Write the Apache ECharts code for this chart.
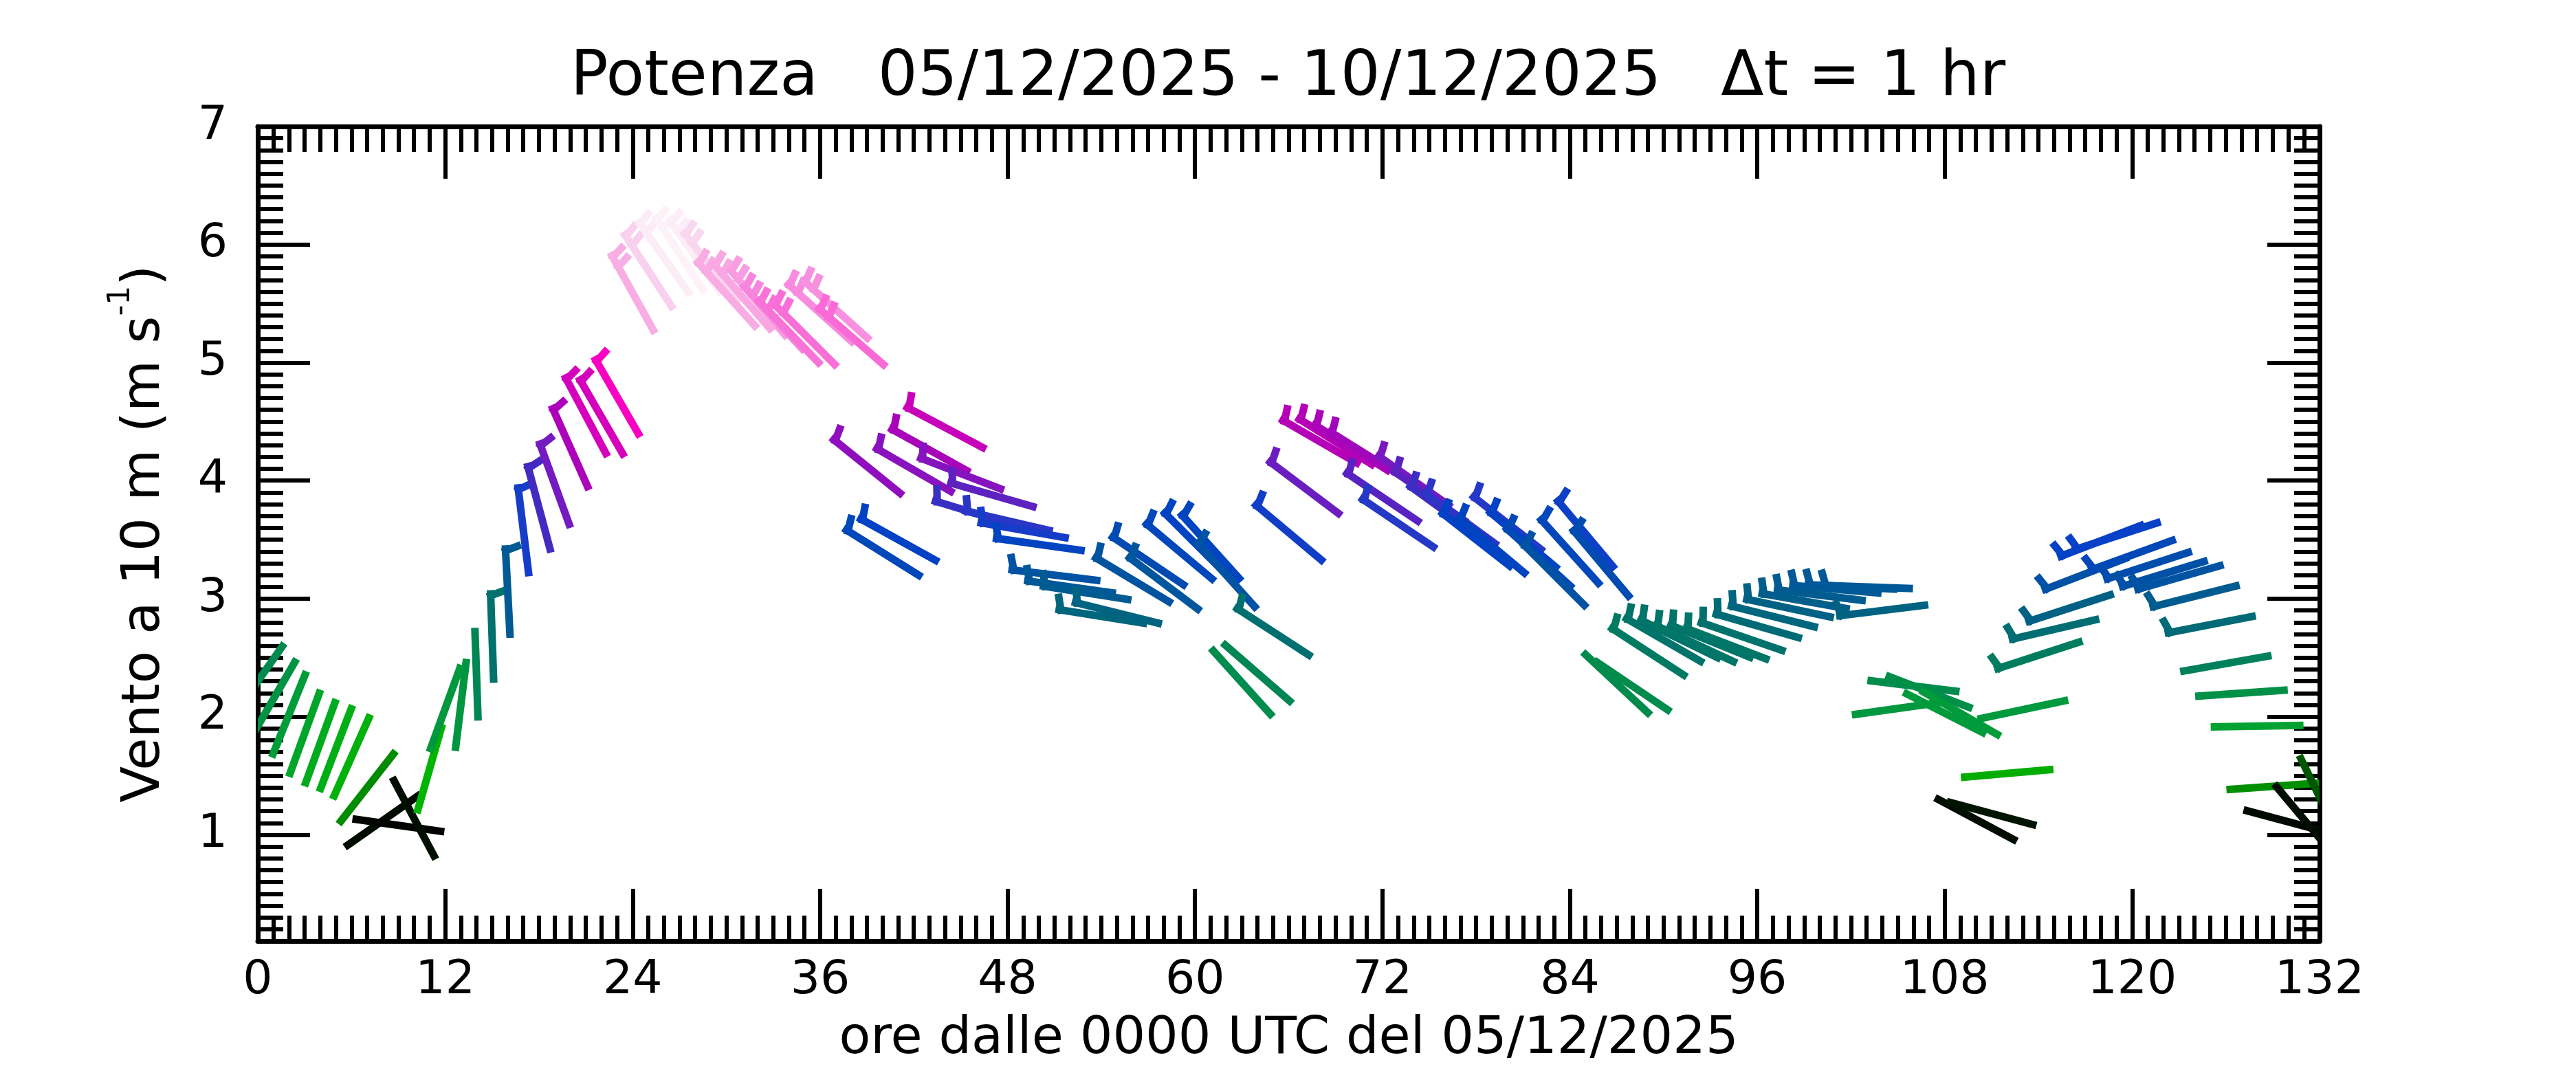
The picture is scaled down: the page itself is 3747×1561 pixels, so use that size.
<!DOCTYPE html>
<html><head><meta charset="utf-8">
<script src="https://cdn.jsdelivr.net/npm/echarts@6/dist/echarts.min.js"></script>
<style>html,body{margin:0;padding:0;background:#fff}#c{width:3747px;height:1561px}</style>
</head><body><div id="c"></div>
<script>
// ---- data (hourly wind at 10 m, Potenza) ----
const hours = [0,1,2,3,4,5,6,7,8,9,10,11,12,13,14,15,16,17,18,19,20,21,22,23,24,25,26,27,28,29,30,31,32,33,34,35,36,37,38,39,40,41,42,43,44,45,46,47,48,49,50,51,52,53,54,55,56,57,58,59,60,61,62,63,64,65,66,67,68,69,70,71,72,73,74,75,76,77,78,79,80,81,82,83,84,85,86,87,88,89,90,91,92,93,94,95,96,97,98,99,100,101,102,103,104,105,106,107,108,109,110,111,112,113,114,115,116,117,118,119,120,121,122,123,124,125,126,127,128,129,130,131,132];
const speed = [2.30,2.15,2.02,1.86,1.78,1.73,1.66,1.40,1.12,1.08,1.14,1.56,2.07,2.10,2.36,2.68,3.06,3.58,3.77,3.97,4.28,4.55,4.54,4.71,5.59,5.78,5.89,5.92,5.90,5.81,5.58,5.56,5.51,5.38,5.26,5.24,5.42,5.45,5.22,4.12,3.39,3.50,4.09,4.26,4.45,4.06,3.72,3.88,3.66,3.58,3.46,3.20,3.10,3.05,2.85,2.88,3.16,3.32,3.13,3.40,3.47,3.44,3.20,2.29,2.37,2.72,3.56,3.94,4.33,4.33,4.28,4.22,3.86,3.64,4.00,3.87,3.74,3.68,3.50,3.45,3.64,3.50,3.35,3.20,3.40,3.55,3.30,2.28,2.26,2.55,2.65,2.66,2.62,2.64,2.62,2.68,2.77,2.85,2.92,2.98,3.03,3.08,3.10,3.10,2.90,2.07,2.26,2.21,2.03,2.03,1.13,1.18,1.52,2.06,2.52,2.74,2.92,3.21,3.49,3.53,3.37,3.28,3.21,3.18,3.02,2.78,2.45,2.20,1.92,1.41,1.11,1.13,1.32];
const direction = [35,30,22,20,20,21,24,38,55,98,332,16,20,7,358,358,357,353,345,340,336,332,330,330,331,327,325,327,325,322,318,319,320,317,316,315,312,312,311,309,302,299,300,299,298,291,287,286,283,280,278,277,278,279,279,284,301,304,307,310,315,318,318,318,311,303,310,307,300,302,302,302,304,304,305,305,306,306,308,310,308,310,312,315,318,320,320,313,304,303,300,296,295,292,291,289,286,284,282,280,277,275,273,272,263,262,277,291,297,300,298,285,265,258,252,257,252,249,249,252,250,252,253,254,256,259,260,266,269,266,285,320,334];
const xTickLabels = [0,12,24,36,48,60,72,84,96,108,120,132];
const yTickLabels = [1,2,3,4,5,6,7];

// ---- style ----
const FONT = 'DejaVu Sans';
const STICK = 135, LW = 11, BARB = 24, BARB_OFF = 8, BARB_GAP = 16, BARB_TILT = 18;
const cmap = [
  [1.05,'#000000'],[1.2,'#001800'],[1.3,'#004800'],[1.4,'#008c00'],[1.5,'#00a800'],[1.55,'#00b400'],
  [1.7,'#00b010'],[1.9,'#00a430'],[2.1,'#009640'],[2.3,'#008a50'],[2.5,'#007e5e'],[2.7,'#00706e'],
  [2.9,'#006282'],[3.1,'#005898'],[3.3,'#004cb0'],[3.5,'#0042c6'],[3.6,'#1c3cc8'],[3.8,'#4a28c0'],
  [4.0,'#7a18c0'],[4.3,'#b000b8'],[4.55,'#d600bc'],[4.75,'#ff00c4'],[5.0,'#ff30cc'],[5.25,'#f872d8'],
  [5.45,'#f890e0'],[5.6,'#f8b0e4'],[5.8,'#f9d4ee'],[5.88,'#fbeaf5'],[5.95,'#fef8fb']
];
function hex(c){return [parseInt(c.substr(1,2),16),parseInt(c.substr(3,2),16),parseInt(c.substr(5,2),16)];}
function colorFor(s){
  if (s <= cmap[0][0]) return cmap[0][1];
  for (let i=1;i<cmap.length;i++){
    if (s <= cmap[i][0]){
      const a=hex(cmap[i-1][1]), b=hex(cmap[i][1]);
      const t=(s-cmap[i-1][0])/(cmap[i][0]-cmap[i-1][0]);
      return 'rgb('+a.map((v,k)=>Math.round(v+(b[k]-v)*t)).join(',')+')';
    }
  }
  return cmap[cmap.length-1][1];
}

const data = hours.map((h,i)=>[h, speed[i], direction[i]]);

function renderItem(params, api){
  const s = api.value(1), d = api.value(2)*Math.PI/180;
  const c = api.coord([api.value(0), s]);
  const ux = Math.sin(d), uy = -Math.cos(d);
  const half = STICK/2;
  const x1 = c[0]+ux*half, y1 = c[1]+uy*half;
  const x2 = c[0]-ux*half, y2 = c[1]-uy*half;
  const col = colorFor(s);
  const st = {stroke: col, lineWidth: LW, lineCap: 'butt'};
  const children = [{type:'line', shape:{x1:x2,y1:y2,x2:x1,y2:y1}, style: st}];
  const n = s >= 5 ? 2 : (s >= 2.5 ? 1 : 0);
  const px = -uy, py = ux, t = BARB_TILT*Math.PI/180;
  const bx = px*Math.cos(t)+ux*Math.sin(t), by = py*Math.cos(t)+uy*Math.sin(t);
  for (let k=0;k<n;k++){
    const ax = x1 - ux*(BARB_OFF+k*BARB_GAP), ay = y1 - uy*(BARB_OFF+k*BARB_GAP);
    children.push({type:'line', shape:{x1:ax - bx*LW/2, y1:ay - by*LW/2, x2:ax+bx*BARB, y2:ay+by*BARB}, style: st});
  }
  return {type:'group', children};
}

const tickLine = {color:'#000', width:6};
function xAx(pos, labels){
  return {type:'value', position:pos, min:0, max:132, interval:12,
    axisLine:{show:true, onZero:false, lineStyle:{color:'#000', width:7}},
    axisTick:{show:true, inside:true, length:76, lineStyle:tickLine},
    minorTick:{show:true, splitNumber:12, length:37, lineStyle:tickLine},
    axisLabel:{show:labels, fontSize:68, color:'#000', fontFamily:FONT, margin:24},
    splitLine:{show:false}, minorSplitLine:{show:false}};
}
function yMajor(pos, labels){
  return {type:'value', position:pos, min:0.1, max:7,
    axisLine:{show:true, onZero:false, lineStyle:{color:'#000', width:7}},
    axisTick:{show:true, inside:true, length:76, customValues:yTickLabels, lineStyle:tickLine},
    axisLabel:{show:labels, customValues:yTickLabels, fontSize:68, color:'#000', fontFamily:FONT, margin:44},
    splitLine:{show:false}};
}
function yMinor(pos){
  return {type:'value', position:pos, min:0.1, max:7, interval:0.1,
    axisLine:{show:false, onZero:false},
    axisTick:{show:true, inside:true, length:37, lineStyle:tickLine},
    axisLabel:{show:false}, splitLine:{show:false}};
}

const xa0 = xAx('bottom', true);
xa0.name = 'ore dalle 0000 UTC del 05/12/2025';
xa0.nameLocation = 'middle';
xa0.nameGap = 106;
xa0.nameTextStyle = {fontSize:75, color:'#000', fontFamily:FONT};
const ya0 = yMajor('left', true);
ya0.name = '{a|Vento a 10 m (m s}{s|-1}{a|)}';
ya0.nameLocation = 'middle';
ya0.nameGap = 126;
ya0.nameRotate = 90;
ya0.nameTextStyle = {color:'#000', fontFamily:FONT, rich:{
  a:{fontSize:77, color:'#000', fontFamily:FONT, lineHeight:94, verticalAlign:'bottom'},
  s:{fontSize:44, color:'#000', fontFamily:FONT, lineHeight:94, verticalAlign:'top'}}};

const chart = echarts.init(document.getElementById('c'), null, {renderer:'canvas', width:3747, height:1561});
chart.setOption({
  animation:false,
  backgroundColor:'#ffffff',
  title:{text:'Potenza   05/12/2025 - 10/12/2025   Δt = 1 hr', left:'center', top:64,
    textStyle:{fontSize:91, fontWeight:'normal', color:'#000', fontFamily:FONT}},
  grid:{left:375, right:373, top:184, bottom:192, containLabel:false},
  xAxis:[xa0, xAx('top', false)],
  yAxis:[ya0, yMinor('left'), yMajor('right', false), yMinor('right')],
  series:[{type:'custom', xAxisIndex:0, yAxisIndex:0, clip:true, renderItem, data, encode:{x:0,y:1}}]
});
</script></body></html>
